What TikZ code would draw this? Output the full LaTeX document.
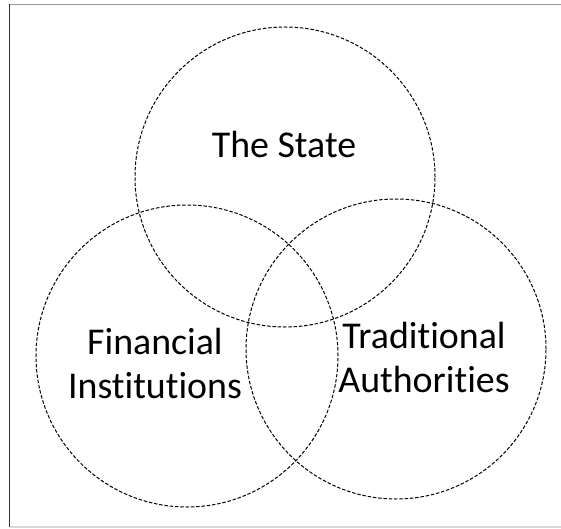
\documentclass[tikz,border=0pt]{standalone}
\usepackage{fontspec}
\setmainfont[Ligatures={NoCommon}]{Carlito}
\begin{document}
\begin{tikzpicture}[x=1bp,y=-1bp,
  setc/.style={draw=black, line width=1bp, dash pattern=on 3.5bp off 1.8bp},
  lbl/.style={align=center, font=\fontsize{38}{44}\selectfont, inner sep=0pt}]
\useasboundingbox (0,0) rectangle (561,529);
\draw[gray!80, line width=1.5bp] (570,4.5) -- (9.5,4.5);
\draw[black!80, line width=1.5bp] (9.5,4.5) -- (9.5,527);
\draw[gray!30, line width=1.5bp] (9.5,527) -- (570,527);
\node[setc, circle, minimum size=300bp, inner sep=0pt] (state) at (285,177) {};
\node[setc, circle, minimum size=302bp, inner sep=0pt] (fin) at (187,356) {};
\node[setc, circle, minimum size=300bp, inner sep=0pt] (trad) at (396,349) {};
\node[lbl, anchor=base] (tstate) at (284,158) {The State};
\node[lbl, anchor=base] (tfin) at (155,398) {Financial\\Institutions};
\node[lbl, anchor=base] (ttrad) at (424,392) {Traditional\\Authorities};
\end{tikzpicture}
\end{document}
